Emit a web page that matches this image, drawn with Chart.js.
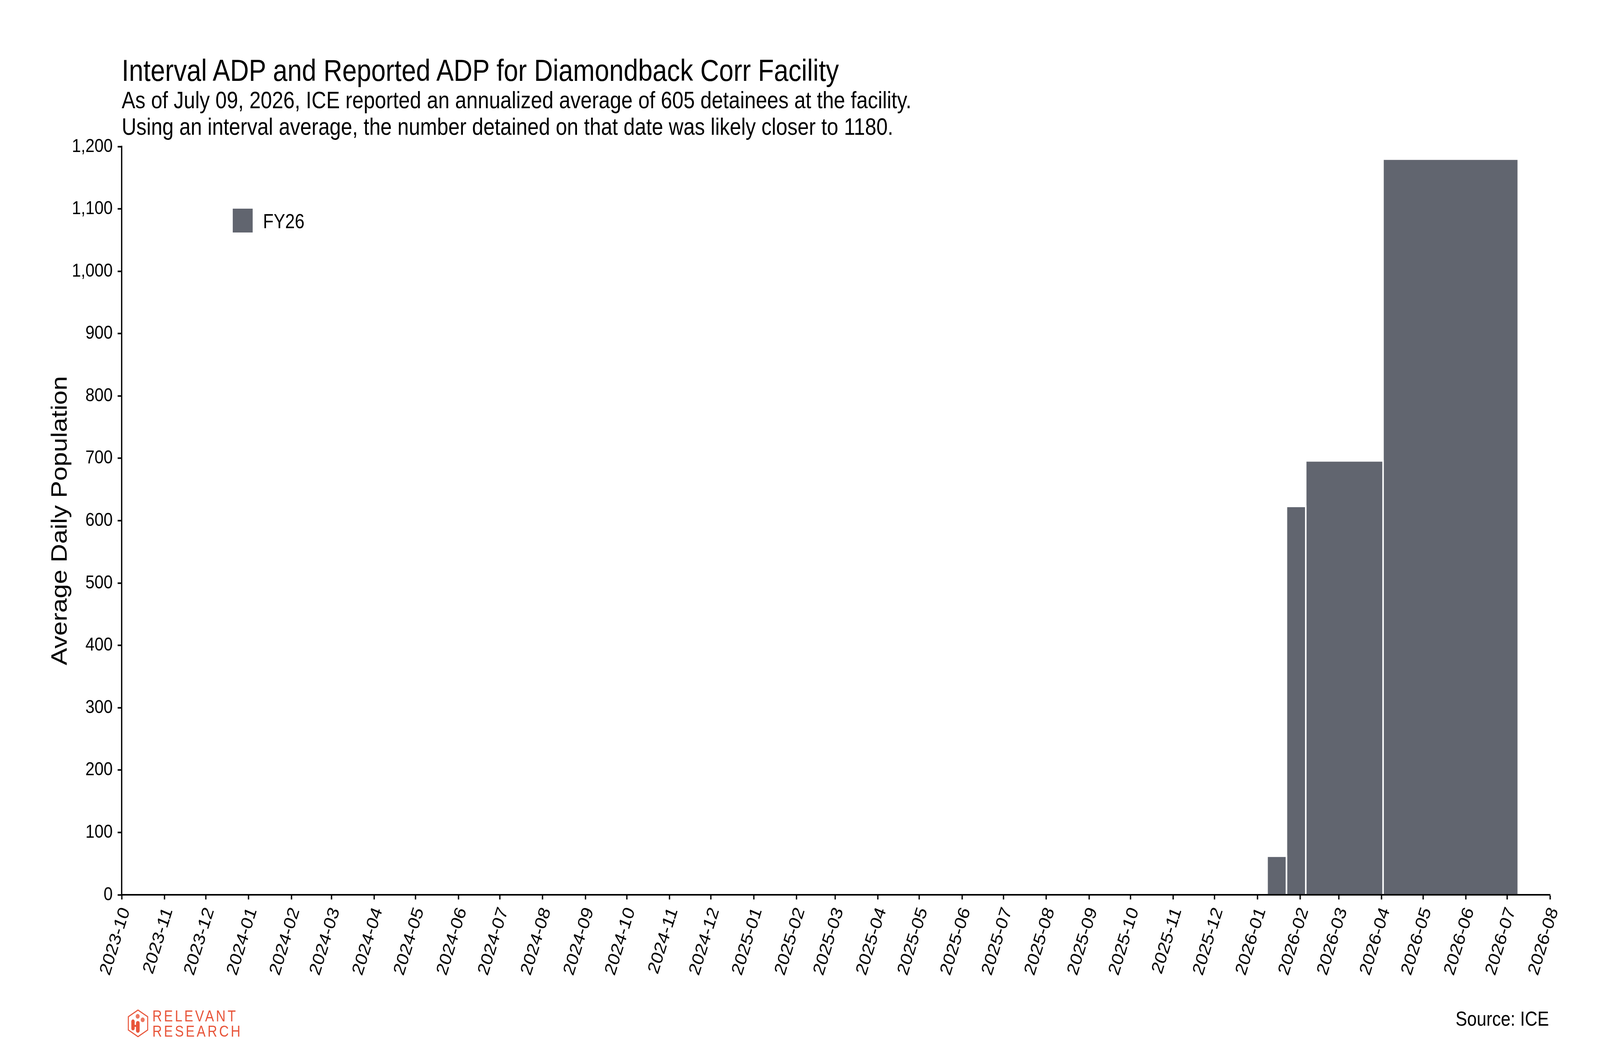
<!DOCTYPE html>
<html><head><meta charset="utf-8">
<script src="https://cdn.jsdelivr.net/npm/chart.js@4.4.1/dist/chart.umd.min.js"></script>
<style>
html,body{margin:0;padding:0;background:#fff;overflow:hidden;}
#wrap{position:absolute;left:0;top:0;width:4800px;height:2700px;overflow:hidden;background:#fff;font-family:"Liberation Sans",Arial,Helvetica,sans-serif;color:#000;transform-origin:0 0;}
#c{position:absolute;left:0;top:0;}
.t{position:absolute;white-space:nowrap;}
</style></head><body>
<div id="wrap">
<canvas id="c" width="4800" height="2700"></canvas>
<div class="t" id="title" style="left:365px;top:141px;font-size:78px;line-height:78px;"></div>
<div class="t" id="sub" style="left:365px;top:222px;font-size:61px;line-height:68px;"></div>
<div id="legendBox" style="position:absolute;left:698px;top:534px;width:60px;height:61px;"></div>
<div class="t" id="legendText" style="left:789px;top:540px;font-size:52px;line-height:52px;"></div>
<div class="t" id="source" style="right:153px;top:2581px;font-size:52px;line-height:52px;"></div>
<svg style="position:absolute;left:382px;top:2583px;" width="64" height="72" viewBox="0 0 64 72">
  <polygon points="32,2 61,19 61,53 32,70 3,53 3,19" fill="none" stroke="#E8553A" stroke-width="3"/>
  <circle cx="31" cy="18" r="6" fill="#E8553A" opacity="0.8"/>
  <circle cx="46" cy="27" r="6" fill="#E8553A" opacity="0.8"/>
  <circle cx="17" cy="31" r="5" fill="#E8553A"/>
  <rect x="12" y="28" width="10" height="26" rx="5" fill="#E8553A"/>
  <rect x="26" y="30" width="11" height="30" rx="5.5" fill="#E8553A"/>
  <rect x="18" y="40" width="12" height="5" fill="#E8553A"/>
</svg>
<div class="t" id="logo1" style="left:457px;top:2580px;font-family:'Liberation Sans Narrow','Liberation Sans',sans-serif;font-size:40px;line-height:40px;letter-spacing:6px;color:#E8553A;">RELEVANT</div>
<div class="t" id="logo2" style="left:457px;top:2619px;font-family:'Liberation Sans Narrow','Liberation Sans',sans-serif;font-size:40px;line-height:40px;letter-spacing:6px;color:#E8553A;">RESEARCH</div>
</div>
<script>
// ---- data ----
const titleText = 'Interval ADP and Reported ADP for Diamondback Corr Facility';
const subtitleLines = [
  'As of July 09, 2026, ICE reported an annualized average of 605 detainees at the facility.',
  'Using an interval average, the number detained on that date was likely closer to 1180.'
];
const seriesLabel = 'FY26';
const intervalStarts = ['2026-01-08', '2026-01-22', '2026-02-05', '2026-04-02'];
const intervalEnds   = ['2026-01-22', '2026-02-05', '2026-04-02', '2026-07-09'];
const intervalADP    = [62, 623, 696, 1180];
const xTickLabels = [
  '2023-10','2023-11','2023-12','2024-01','2024-02','2024-03','2024-04','2024-05','2024-06',
  '2024-07','2024-08','2024-09','2024-10','2024-11','2024-12','2025-01','2025-02','2025-03',
  '2025-04','2025-05','2025-06','2025-07','2025-08','2025-09','2025-10','2025-11','2025-12',
  '2026-01','2026-02','2026-03','2026-04','2026-05','2026-06','2026-07','2026-08'
];
const yTickValues = [0,100,200,300,400,500,600,700,800,900,1000,1100,1200];
const yAxisTitle = 'Average Daily Population';
const sourceText = 'Source: ICE';

// ---- styles ----
const barColor = '#61656F';
const FONT = '"Liberation Sans", Arial, Helvetica, sans-serif';

// fit the 4800x2700 design to whatever viewport the browser actually gives
function fitWrap() {
  const W = window.innerWidth || 4800, H = window.innerHeight || 2700;
  document.getElementById('wrap').style.transform = 'scale(' + (W / 4800) + ',' + (H / 2700) + ')';
}
fitWrap();
window.addEventListener('resize', fitWrap);

document.getElementById('title').textContent = titleText;
document.getElementById('sub').innerHTML = subtitleLines.map(s => s.replace(/&/g,'&amp;').replace(/</g,'&lt;')).join('<br>');
document.getElementById('legendText').textContent = seriesLabel;
document.getElementById('legendBox').style.background = barColor;
document.getElementById('source').textContent = sourceText;

const DAY = 86400000;
const origin = Date.UTC(2023, 9, 1);
function dayNum(s) {
  const p = s.split('-').map(Number);
  return (Date.UTC(p[0], p[1] - 1, p.length > 2 ? p[2] : 1) - origin) / DAY;
}
const tickDays = xTickLabels.map(dayNum);

const datasets = intervalADP.map((v, i) => {
  const s = dayNum(intervalStarts[i]);
  const e = dayNum(intervalEnds[i]);
  return {
    label: seriesLabel,
    data: [{x: s, y: 0}, {x: s, y: v}, {x: e, y: v}, {x: e, y: 0}],
    backgroundColor: barColor,
    borderColor: '#ffffff',
    borderWidth: 4.5,
    fill: 'origin',
    pointRadius: 0,
    tension: 0
  };
});

new Chart(document.getElementById('c'), {
  type: 'line',
  data: { datasets },
  options: {
    responsive: false,
    devicePixelRatio: 1,
    animation: false,
    locale: 'en-US',
    layout: { padding: { top: 375, right: 150, bottom: 0, left: 0 } },
    plugins: { legend: { display: false }, tooltip: { enabled: false }, title: { display: false } },
    scales: {
      x: {
        type: 'linear',
        min: tickDays[0],
        max: tickDays[tickDays.length - 1],
        afterBuildTicks: (scale) => { scale.ticks = tickDays.map(v => ({ value: v })); },
        afterFit: (scale) => { scale.height = 410; },
        grid: { drawOnChartArea: false, drawTicks: true, tickLength: 12, tickWidth: 4, tickColor: '#000' },
        border: { display: true, color: '#000', width: 4, z: 1 },
        ticks: {
          autoSkip: false,
          minRotation: 70,
          maxRotation: 70,
          padding: 13,
          labelOffset: 12,
          color: '#000',
          font: { family: FONT, size: 49 },
          callback: (v, i) => xTickLabels[i]
        }
      },
      y: {
        type: 'linear',
        min: yTickValues[0],
        max: yTickValues[yTickValues.length - 1],
        afterBuildTicks: (scale) => { scale.ticks = yTickValues.map(v => ({ value: v })); },
        afterFit: (scale) => { scale.width = 365; },
        grid: { drawOnChartArea: false, drawTicks: true, tickLength: 12, tickWidth: 4, tickColor: '#000' },
        border: { display: true, color: '#000', width: 4, z: 1 },
        ticks: {
          padding: 15,
          color: '#000',
          font: { family: FONT, size: 49 },
          callback: (v) => Number(v).toLocaleString('en-US')
        },
        title: {
          display: true,
          text: yAxisTitle,
          color: '#000',
          font: { family: FONT, size: 66 },
          padding: { top: 142, bottom: 0 }
        }
      }
    }
  }
});
</script>
</body></html>
